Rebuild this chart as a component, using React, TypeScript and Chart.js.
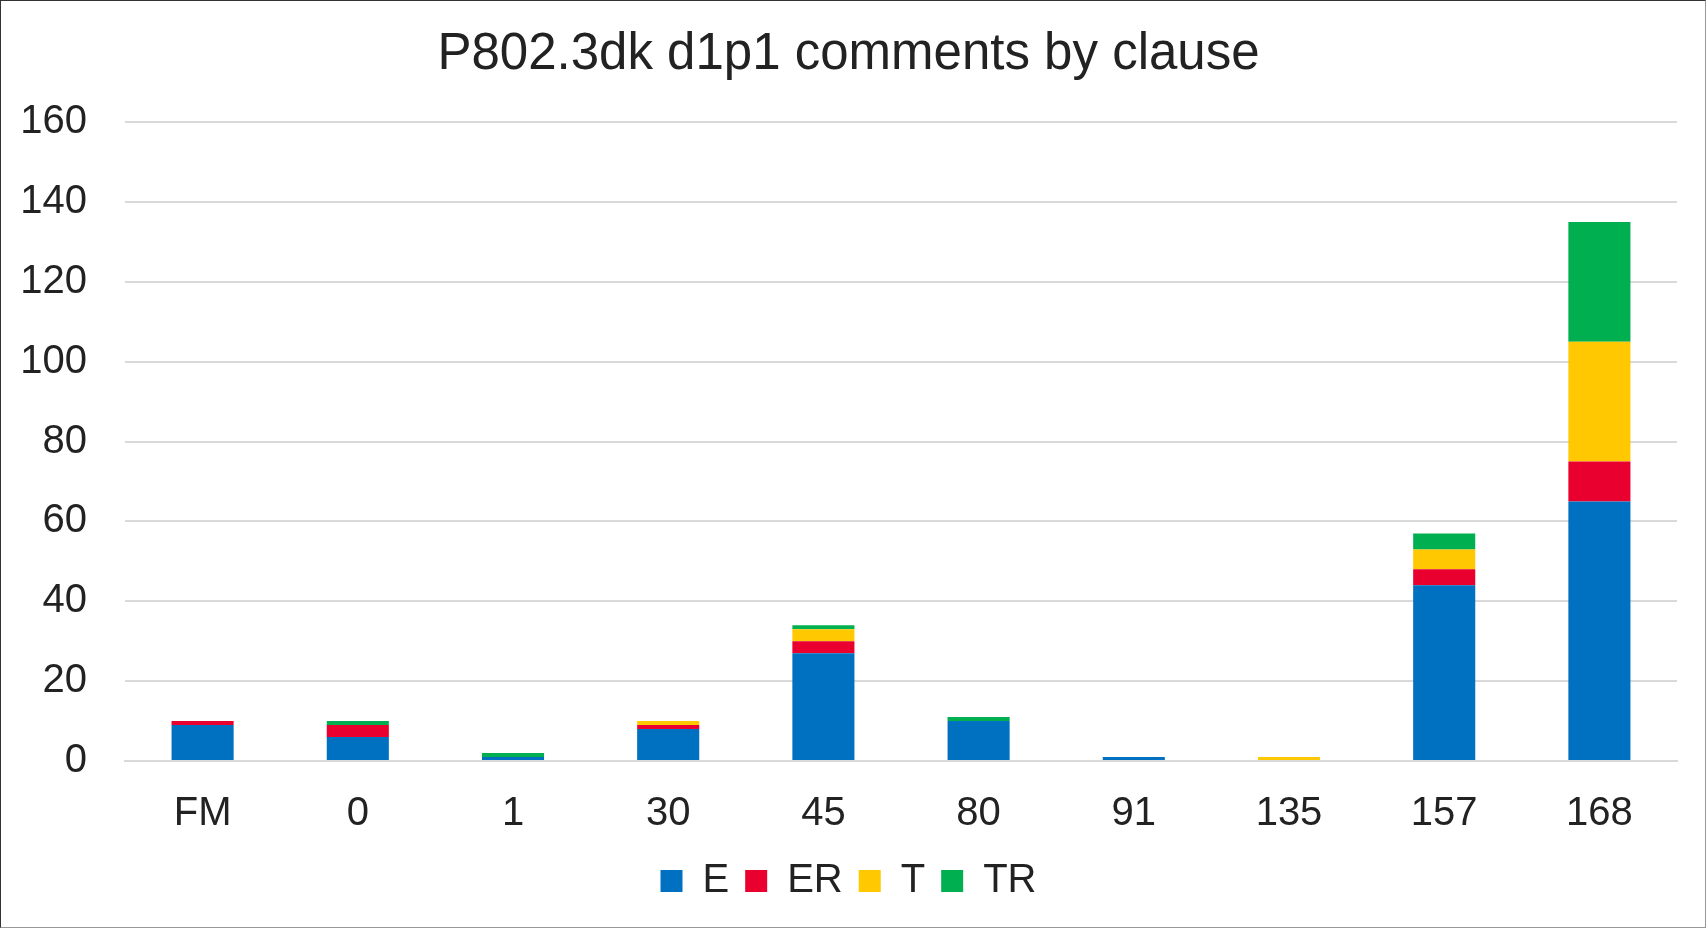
import React, { useEffect, useRef } from "react";
import { Chart, registerables } from "chart.js";

Chart.register(...registerables);

const categories = ["FM", "0", "1", "30", "45", "80", "91", "135", "157", "168"];
const eValues = [9, 6, 1, 8, 27, 10, 1, 0, 44, 65];
const erValues = [1, 3, 0, 1, 3, 0, 0, 0, 4, 10];
const tValues = [0, 0, 0, 1, 3, 0, 0, 1, 5, 30];
const trValues = [0, 1, 1, 0, 1, 1, 0, 0, 4, 30];

const FONT = "'Liberation Sans', Arial, sans-serif";

export default function App() {
  const ref = useRef<HTMLCanvasElement | null>(null);

  useEffect(() => {
    document.body.style.margin = "0";
    const canvas = ref.current;
    if (!canvas) return;
    const mk = (label: string, data: number[], color: string) => ({
      label,
      data,
      backgroundColor: color,
      borderWidth: 0,
      categoryPercentage: 1,
      barPercentage: 0.4,
    });
    const chart = new Chart(canvas, {
      type: "bar",
      data: {
        labels: categories,
        datasets: [
          mk("E", eValues, "#0070C0"),
          mk("ER", erValues, "#E9002E"),
          mk("T", tValues, "#FFC800"),
          mk("TR", trValues, "#00B050"),
        ],
      },
      options: {
        animation: false,
        responsive: false,
        maintainAspectRatio: false,
        layout: { padding: { left: 19, right: 28, top: 0, bottom: 16 } },
        plugins: {
          tooltip: { enabled: false },
          title: {
            display: true,
            text: "P802.3dk d1p1 comments by clause",
            color: "#222222",
            font: { family: FONT, size: 51, weight: "normal" },
            padding: { top: 23, bottom: 37 },
          },
          legend: {
            position: "bottom",
            labels: {
              boxWidth: 22,
              boxHeight: 22,
              color: "#222222",
              font: { family: FONT, size: 40 },
              padding: 16,
            },
          },
        },
        scales: {
          x: {
            stacked: true,
            grid: { display: false, drawTicks: false },
            border: { display: true, color: "#D9D9D9", width: 2 },
            ticks: {
              color: "#222222",
              font: { family: FONT, size: 40 },
              padding: 29,
            },
            afterFit: (scale: any) => {
              scale.height = 84;
            },
          },
          y: {
            stacked: true,
            min: 0,
            max: 160,
            grid: { color: "#D9D9D9", lineWidth: 2, drawTicks: false },
            border: { display: false },
            ticks: {
              stepSize: 20,
              color: "#222222",
              font: { family: FONT, size: 40 },
              padding: 38,
            },
            afterFit: (scale: any) => {
              scale.width = 105;
            },
          },
        },
      },
    });
    return () => chart.destroy();
  }, []);

  return (
    <div
      style={{
        position: "absolute",
        left: 0,
        top: 0,
        width: 1706,
        height: 928,
        boxSizing: "border-box",
        borderTop: "1px solid #333",
        borderLeft: "1px solid #333",
        borderRight: "1px solid #999",
        borderBottom: "1px solid #999",
        background: "#fff",
      }}
    >
      <canvas ref={ref} width={1704} height={926} style={{ display: "block" }} />
    </div>
  );
}
